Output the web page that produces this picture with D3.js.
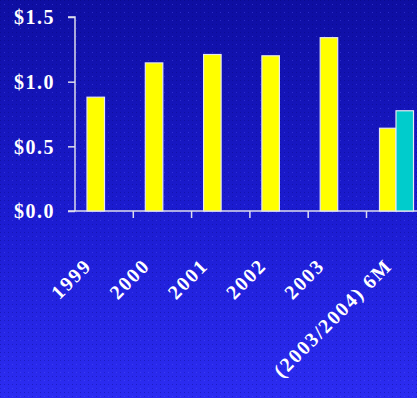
<!DOCTYPE html>
<html><head><meta charset="utf-8">
<script src="https://cdn.jsdelivr.net/npm/d3@7"></script>
<style>html,body{margin:0;padding:0;background:#1a1ad0;}svg{display:block;}</style>
</head><body>
<script>
const categories = ["1999","2000","2001","2002","2003","(2003/2004) 6M"];
const yellowValues = [0.88, 1.145, 1.21, 1.20, 1.34, 0.64];
const tealValues = [null, null, null, null, null, 0.775];
const yTicks = [0, 0.5, 1.0, 1.5];
const yTickLabels = ["$0.0","$0.5","$1.0","$1.5"];

const W = 417, H = 398;
const svg = d3.select("body").append("svg").attr("width", W).attr("height", H);
const defs = svg.append("defs");
const grad = defs.append("linearGradient").attr("id","bg").attr("x1",0).attr("y1",0).attr("x2",0).attr("y2",1);
grad.append("stop").attr("offset","0%").attr("stop-color","#0e0ea2");
grad.append("stop").attr("offset","55%").attr("stop-color","#1c1cd2");
grad.append("stop").attr("offset","100%").attr("stop-color","#2c2cf2");
const pat = defs.append("pattern").attr("id","dots").attr("width",8).attr("height",8).attr("patternUnits","userSpaceOnUse");
pat.append("rect").attr("x",0).attr("y",0).attr("width",1).attr("height",1).attr("fill","#000060").attr("opacity",0.35);
pat.append("rect").attr("x",4).attr("y",4).attr("width",1).attr("height",1).attr("fill","#6060ff").attr("opacity",0.35);
pat.append("rect").attr("x",4).attr("y",0).attr("width",1).attr("height",1).attr("fill","#000060").attr("opacity",0.25);
pat.append("rect").attr("x",0).attr("y",4).attr("width",1).attr("height",1).attr("fill","#000060").attr("opacity",0.25);
svg.append("rect").attr("width",W).attr("height",H).attr("fill","url(#bg)");
svg.append("rect").attr("width",W).attr("height",H).attr("fill","url(#dots)");

const x0 = 75, yBase = 211, yTop = 17;
const band = 58.3;
const x = d3.scaleBand().domain(categories).range([x0, x0 + band*categories.length]).paddingInner(0).paddingOuter(0);
const y = d3.scaleLinear().domain([0,1.5]).range([yBase, yTop]);

const axisColor = "#dcdcec";
const font = "'Liberation Serif','DejaVu Serif',serif";

// Y axis
const yAxis = d3.axisLeft(y).tickValues(yTicks).tickSize(7).tickFormat((d,i)=>yTickLabels[i]).tickPadding(13);
const gy = svg.append("g").attr("transform",`translate(${x0},0)`).call(yAxis);
gy.select(".domain").attr("stroke",axisColor).attr("stroke-width",1.5).attr("d",`M-7,${yTop}H0V${yBase}`);
gy.selectAll(".tick line").attr("stroke",axisColor).attr("stroke-width",1.5);
gy.selectAll(".tick text").attr("fill","white").attr("font-family",font).attr("font-weight","bold")
  .attr("font-size",20).attr("letter-spacing","1.5px").attr("dy","0.34em");

// X axis
const gx = svg.append("g").attr("transform",`translate(0,${yBase})`);
gx.append("line").attr("x1",x0-7).attr("x2",W).attr("y1",0).attr("y2",0).attr("stroke",axisColor).attr("stroke-width",1.5);
gx.selectAll(".xt").data(categories.slice(1)).enter().append("line")
  .attr("x1",d=>x(d)).attr("x2",d=>x(d)).attr("y1",0).attr("y2",7).attr("stroke",axisColor).attr("stroke-width",1.5);

const barW = 17.5, offset = 12;
// Yellow bars
svg.selectAll(".yb").data(categories.map((c,i)=>({c,v:yellowValues[i],i}))).enter().append("rect")
  .attr("x",d=> d.i===5 ? x(d.c)+13 : x(d.c)+offset)
  .attr("y",d=>y(d.v)).attr("width",d=> d.i===5 ? 16.5 : barW).attr("height",d=>yBase-y(d.v))
  .attr("fill","#ffff00").attr("stroke","#e8e8f0").attr("stroke-width",1.2);
// Teal bars
svg.selectAll(".tb").data(categories.map((c,i)=>({c,v:tealValues[i],i})).filter(d=>d.v!=null)).enter().append("rect")
  .attr("x",d=>x(d.c)+29.5).attr("y",d=>y(d.v)).attr("width",17.5).attr("height",d=>yBase-y(d.v))
  .attr("fill","#00cccc").attr("stroke","#e8e8f0").attr("stroke-width",1.2);

// X labels
const labelX = (c,i) => i===5 ? x(c)+30 : x(c)+offset+barW/2;
svg.selectAll(".xl").data(categories).enter().append("text")
  .attr("transform",(d,i)=>`translate(${labelX(d,i)-3},${yBase+56}) rotate(-45)`)
  .attr("text-anchor","end").attr("fill","white").attr("font-family",font).attr("font-weight","bold")
  .attr("font-size",20).attr("letter-spacing","1.8px").text(d=>d);
</script>
</body></html>
